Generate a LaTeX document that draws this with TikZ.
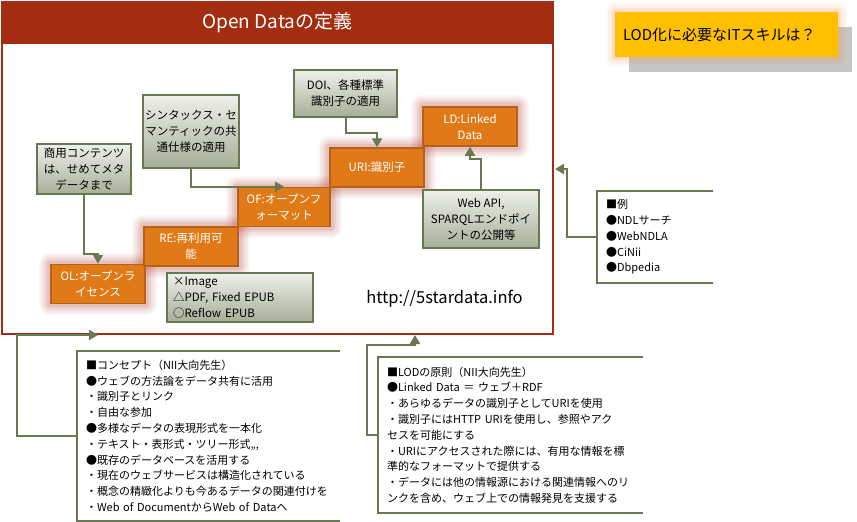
\documentclass[tikz,border=0pt]{standalone}
\usepackage{fontspec}
\setmainfont{Noto Sans CJK JP}
\usepackage{tikz}
\usetikzlibrary{arrows.meta,positioning}
\definecolor{titlered}{RGB}{162,45,16}
\definecolor{starorange}{RGB}{224,122,24}
\definecolor{starborder}{RGB}{180,98,26}
\definecolor{glowred}{RGB}{185,70,60}
\definecolor{olive}{RGB}{104,120,80}
\definecolor{greytop}{RGB}{238,240,234}
\definecolor{greybottom}{RGB}{166,174,152}
\definecolor{skillyellow}{RGB}{255,192,0}
\definecolor{skillglow}{RGB}{247,150,70}
\definecolor{shadowgrey}{RGB}{198,198,198}

\pgfdeclarelayer{back}
\pgfdeclarelayer{glowlayer}
\pgfsetlayers{back,glowlayer,main}

\tikzset{
  boxfont/.style={font=\fontsize{11.5}{16}\selectfont},
  starbox/.style={boxfont, draw=starborder, line width=1.5pt, fill=starorange, text=white,
    align=center, minimum width=94, minimum height=39, inner sep=2pt},
  notebox/.style={boxfont, draw=olive, line width=2pt, top color=greytop, bottom color=greybottom,
    align=center, inner sep=2pt},
  callout/.style={font=\fontsize{11}{15.8}\selectfont, align=left, inner xsep=9pt},
  bracket/.style={draw=olive, line width=2pt},
  arr/.style={draw=olive, line width=2pt, -{Triangle[length=9pt,width=10pt]}},
  glowring/.style={line join=round, draw=#1},
}

\begin{document}
\begin{tikzpicture}[x=1pt, y=-1pt]
\useasboundingbox (0,0) rectangle (857,522);
\begin{pgfonlayer}{back}
\fill[white] (0,0) rectangle (857,522);
\end{pgfonlayer}

% frame
\node[draw=titlered, line width=2pt, minimum width=551, minimum height=332] (frame) at (277.5,168) {};
\node[fill=titlered, minimum width=551, minimum height=42, text=white,
  font=\fontsize{19}{22}\selectfont] (title) at (277.5,23) {Open Dataの定義};

% five stars
\node[starbox] (ol) at (98,284) {OL:オープンラ\\イセンス};
\node[starbox] (re) at (191,246.5) {RE:再利用可\\能};
\node[starbox, minimum width=92] (of) at (284,207) {OF:オープンフ\\ォーマット};
\node[starbox] (uri) at (377,167.5) {URI:識別子};
\node[starbox] (ld) at (470,126.5) {LD:Linked\\Data};

\begin{pgfonlayer}{glowlayer}
\foreach \n in {ol,re,of,uri,ld}
  \foreach \w/\o in {22/0.05,18/0.06,14/0.07,10/0.09,6/0.11}
    \draw[glowring=glowred, line width=\w pt, opacity=\o] (\n.south west) rectangle (\n.north east);
\end{pgfonlayer}

% notes
\node[notebox, minimum width=94, minimum height=50] (com) at (84,169) {商用コンテンツ\\は、せめてメタ\\データまで};
\node[notebox, minimum width=94, minimum height=73] (syn) at (191,131.5) {シンタックス・セ\\マンティックの共\\通仕様の適用};
\node[notebox, minimum width=103, minimum height=47] (doi) at (345.5,93.5) {DOI、各種標準\\識別子の適用};
\node[notebox, minimum width=116, minimum height=58] (api) at (481,219) {Web API,\\SPARQLエンドポイ\\ントの公開等};
\node[notebox, minimum width=146, minimum height=49, align=left, text width=134, inner xsep=6pt] (fmt) at (240,297.5)
  {×Image\\△PDF, Fixed EPUB\\○Reflow EPUB};

\node[font=\fontsize{16.5}{19}\selectfont] (url) at (444.5,299) {http://5stardata.info};

\draw[arr] (com.south) -- ++(0,59) -| (ol.north);
\draw[arr] (syn.south) |- (of.north);
\draw[arr] (doi.south) -- ++(0,15) -| (uri.north);
\draw[arr] (api.north) -- ++(0,-30) -| (ld.south);

% skill question
\node[fill=skillyellow, minimum width=223, minimum height=45, align=left, text width=207,
  inner xsep=8pt, font=\fontsize{15}{17}\selectfont] (skill) at (726.5,34.5) {LOD化に必要なITスキルは？};
\begin{pgfonlayer}{back}
\fill[shadowgrey] ([shift={(14,15)}]skill.south west) rectangle ([shift={(14,15)}]skill.north east);
\end{pgfonlayer}
\begin{pgfonlayer}{glowlayer}
\foreach \w/\o in {18/0.06,13/0.08,8/0.1,4/0.12}
  \draw[glowring=skillglow, line width=\w pt, opacity=\o] (skill.south west) rectangle (skill.north east);
\end{pgfonlayer}

% callouts
\node[callout, minimum width=116, minimum height=92, text width=98] (ex) at (655,237)
  {■例\\●NDLサーチ\\●WebNDLA\\●CiNii\\●Dbpedia};
\node[callout, minimum width=263, minimum height=170, text width=245, inner xsep=8pt] (con) at (208.5,436)
  {■コンセプト（NII大向先生）\\●ウェブの方法論をデータ共有に活用\\・識別子とリンク\\・自由な参加\\
   ●多様なデータの表現形式を一本化\\・テキスト・表形式・ツリー形式,,,\\●既存のデータベースを活用する\\
   ・現在のウェブサービスは構造化されている\\・概念の精緻化よりも今あるデータの関連付けを\\・Web of DocumentからWeb of Dataへ};
\node[callout, minimum width=265, minimum height=156, text width=247] (lod) at (510.5,435)
  {■LODの原則（NII大向先生）\\●Linked Data ＝ ウェブ＋RDF\\・あらゆるデータの識別子としてURIを使用\\
   ・識別子にはHTTP URIを使用し、参照やアク\\セスを可能にする\\・URIにアクセスされた際には、有用な情報を標\\
   準的なフォーマットで提供する\\・データには他の情報源における関連情報へのリ\\ンクを含め、ウェブ上での情報発見を支援する};

\foreach \n in {ex,con,lod}
  \draw[bracket] (\n.north east) -- (\n.north west) -- (\n.south west) -- (\n.south east);

\coordinate (exin) at (555,169);
\coordinate (conin) at (98,335);
\coordinate (lodbend) at (415,345);
\coordinate (lodin) at (415,335);

\draw[arr] (ex.west) -- ++(-30,0) |- (exin);
\draw[arr] (con.west) -- ++(-60,0) |- (conin);
\draw[arr] (lod.west) -- ++(-11,0) |- (lodbend) -- (lodin);
\end{tikzpicture}
\end{document}
